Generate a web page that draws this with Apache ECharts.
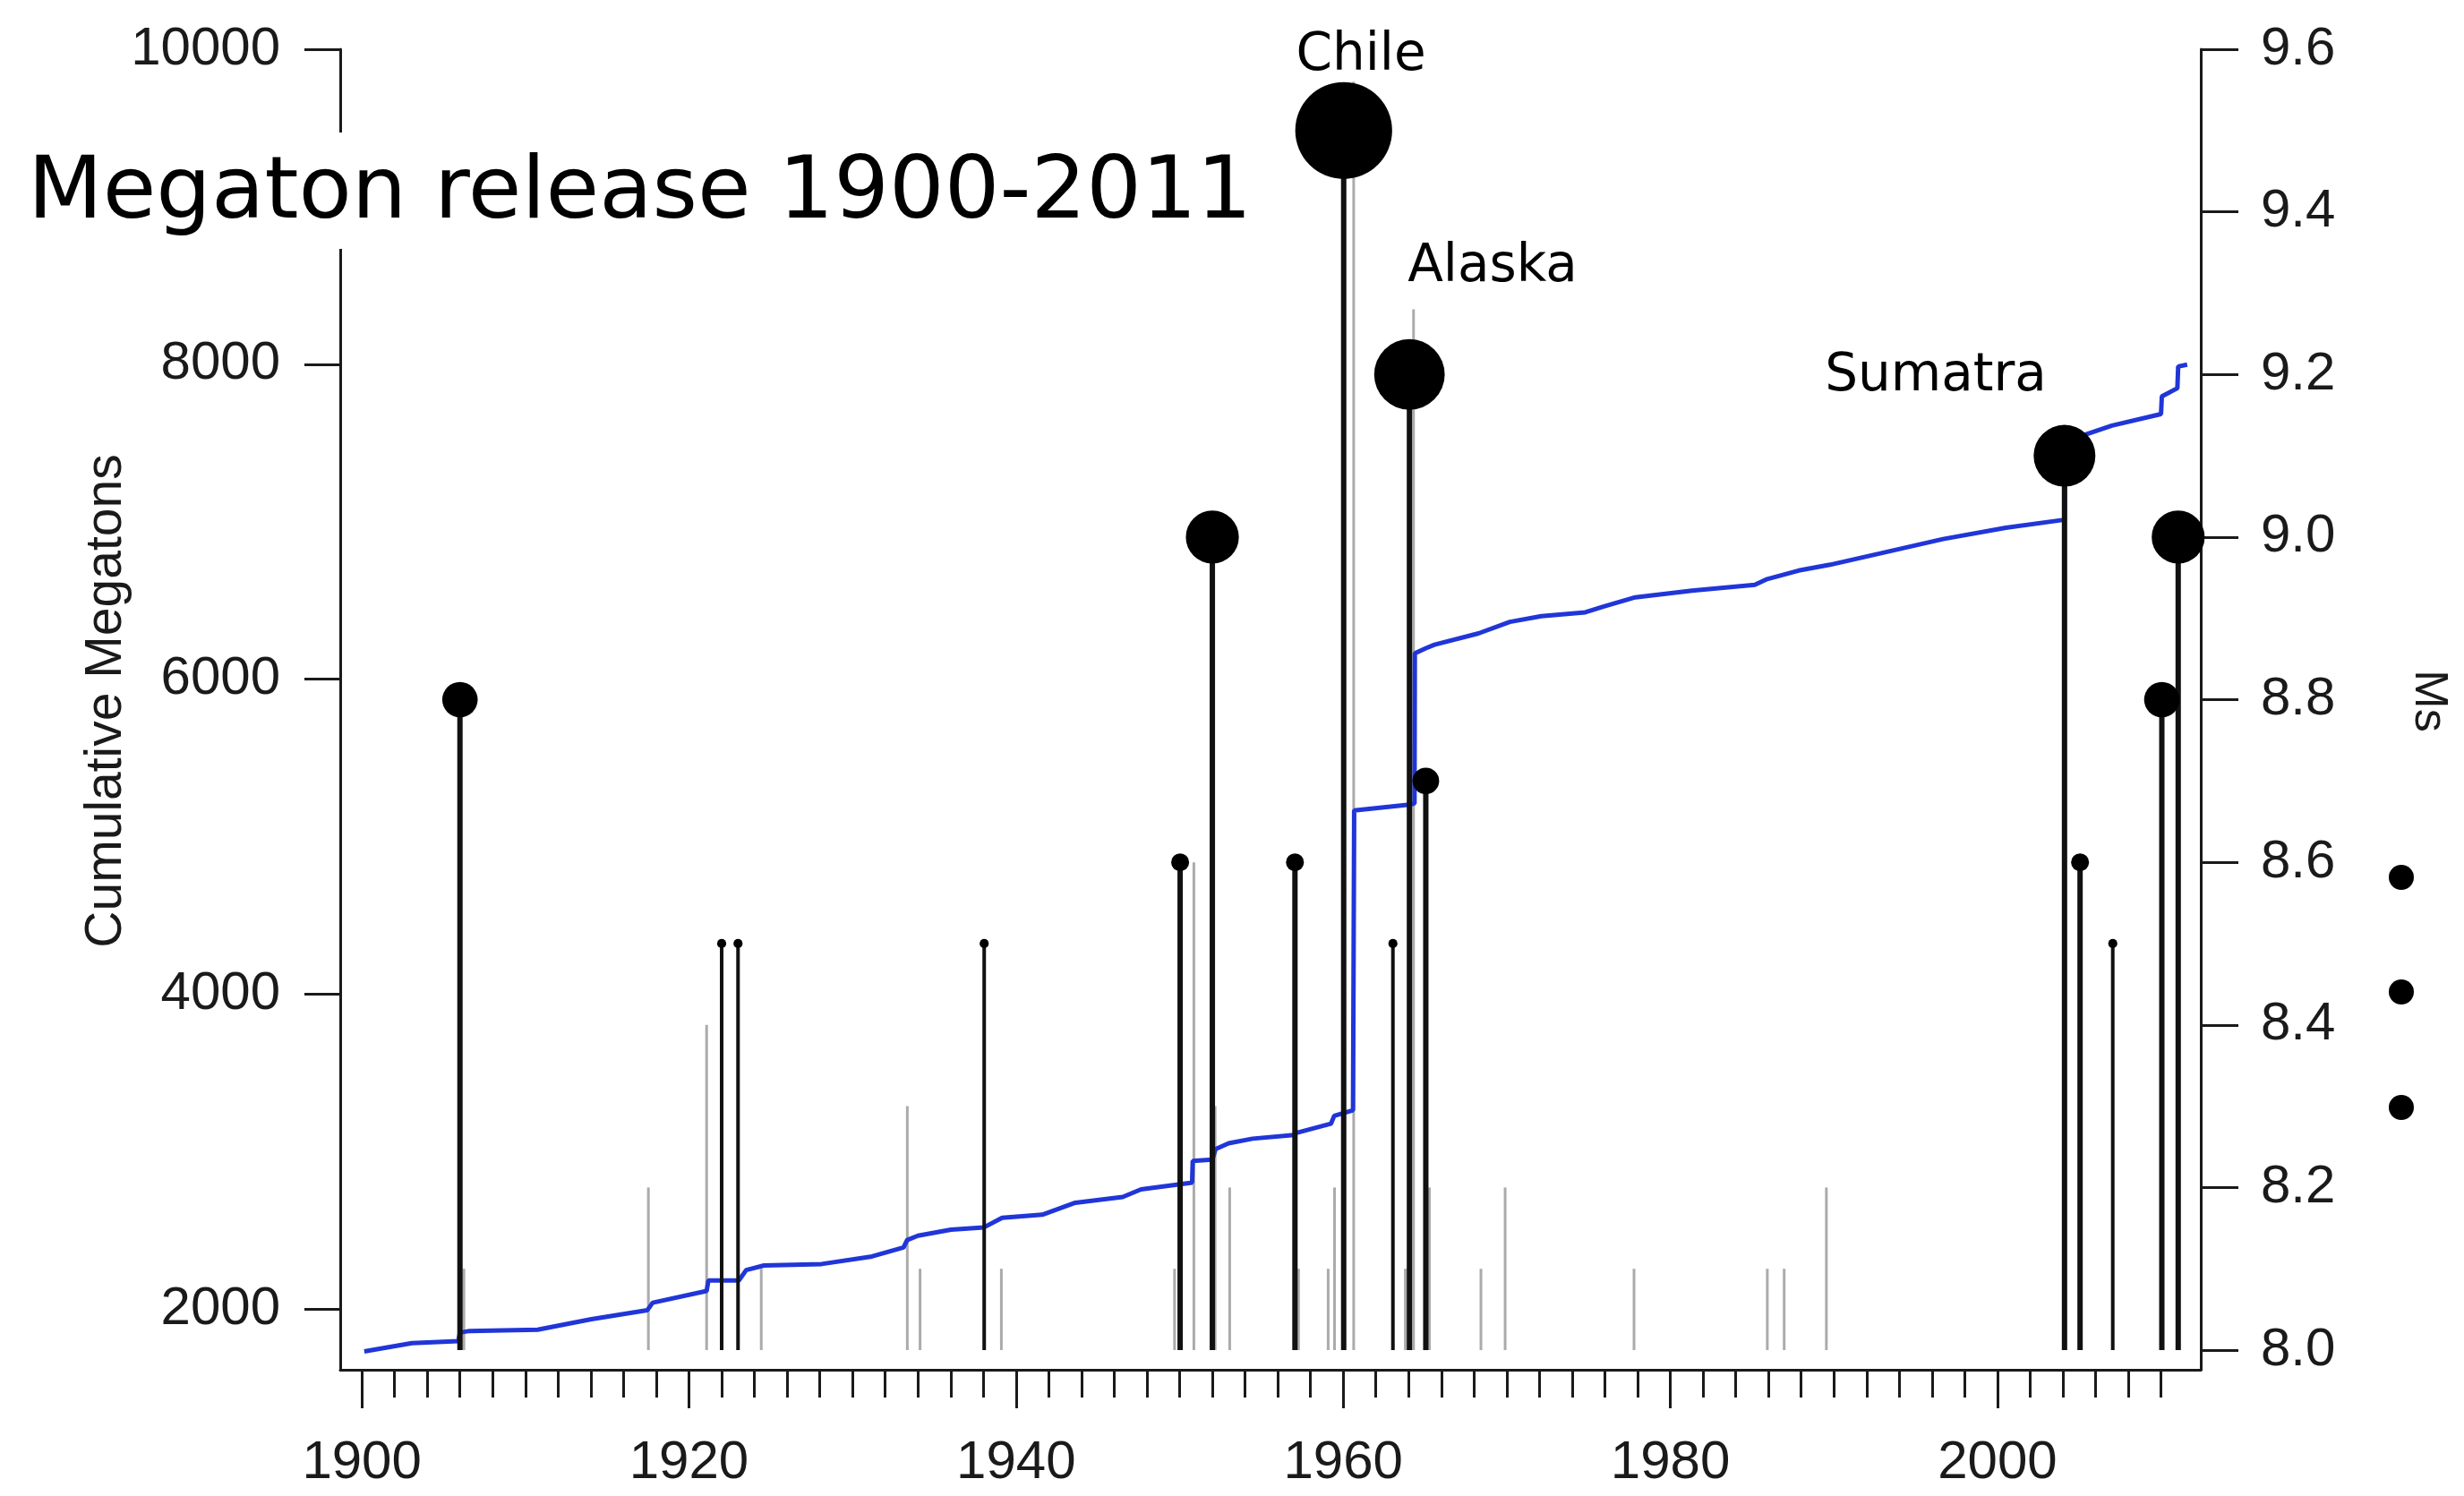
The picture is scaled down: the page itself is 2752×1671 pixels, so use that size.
<!DOCTYPE html>
<html>
<head>
<meta charset="utf-8">
<script src="https://cdn.jsdelivr.net/npm/echarts@6/dist/echarts.min.js"></script>
<style>
html,body{margin:0;padding:0;background:#fff;}
#chart{width:2752px;height:1671px;}
</style>
</head>
<body>
<div id="chart"></div>
<script>
// ---- data ----
var titleText = 'Megaton release 1900-2011';
var leftAxisName = 'Cumulative Megatons';
var rightAxisName = 'Ms';
var eventLabels = ['Chile', 'Alaska', 'Sumatra'];

var xMajorTicks = [1900, 1920, 1940, 1960, 1980, 2000];
var xMinorTicks = [1900,1902,1904,1906,1908,1910,1912,1914,1916,1918,1920,1922,1924,1926,1928,1930,1932,1934,1936,1938,1940,1942,1944,1946,1948,1950,1952,1954,1956,1958,1960,1962,1964,1966,1968,1970,1972,1974,1976,1978,1980,1982,1984,1986,1988,1990,1992,1994,1996,1998,2000,2002,2004,2006,2008,2010];
var leftTicks = [2000, 4000, 6000, 8000, 10000];
var rightTicks = [8.0, 8.2, 8.4, 8.6, 8.8, 9.0, 9.2, 9.4, 9.6];

// large events (black stems with dots)
var bigYears = [1906.0, 1922.0, 1923.0, 1938.05, 1950.03, 1952.0, 1957.05, 1960.03, 1963.04, 1964.05, 1965.05, 2004.1, 2005.05, 2007.05, 2010.05, 2011.05];
var bigMs    = [8.8,    8.5,    8.5,    8.5,     8.6,     9.0,    8.6,     9.5,     8.5,     9.2,     8.7,     9.1,    8.6,     8.5,     8.8,     9.0];

// other events (grey stems)
var smallYears = [1906.24, 1917.52, 1921.08, 1924.42, 1933.35, 1934.13, 1939.10, 1949.69, 1950.87, 1952.17, 1953.06, 1957.27, 1959.08, 1959.47, 1960.64, 1963.80, 1964.30, 1965.27, 1968.42, 1969.90, 1977.78, 1985.93, 1986.96, 1989.54];
var smallMs    = [8.1,     8.2,     8.4,     8.1,     8.3,     8.1,     8.1,     8.1,     8.6,     8.3,     8.2,     8.1,     8.1,     8.2,     9.56,    8.1,     9.28,    8.2,     8.1,     8.2,     8.1,     8.1,     8.1,     8.2];

// cumulative megatons (blue line)
var cumYears = [1900.15,1903.06,1905.9,1906.0,1906.6,1910.75,1914.04,1917.45,1917.78,1921.08,1921.19,1923.06,1923.5,1924.59,1928.11,1931.19,1933.12,1933.34,1934.0,1936.02,1938.04,1939.15,1941.6,1943.62,1946.52,1947.64,1950.76,1950.8,1952.0,1952.2,1953.0,1954.46,1957.0,1957.1,1959.25,1959.45,1960.6,1960.67,1964.05,1964.36,1964.38,1965.03,1965.58,1968.27,1970.19,1972.11,1974.8,1975.94,1977.86,1981.32,1985.16,1985.92,1987.84,1989.76,1992.83,1996.67,2000.51,2003.96,2004.1,2004.12,2005.3,2007.0,2010.0,2010.05,2011.0,2011.05,2011.6];
var cumMt    = [1730,1783,1795,1850,1860,1868,1935,1991,2039,2114,2181,2181,2247,2276,2285,2333,2390,2437,2465,2503,2518,2579,2598,2674,2711,2759,2802,2939,2948,3015,3052,3081,3105,3117,3176,3226,3262,5166,5202,5210,6163,6195,6218,6290,6363,6399,6424,6461,6519,6562,6598,6635,6689,6726,6798,6889,6961,7010,7015,7530,7550,7610,7683,7795,7847,7985,7997];

// ---- build ----
var STEM_BASE = 8.0;
var bigData = bigYears.map(function (y, i) { return [y, bigMs[i]]; });
var smallData = smallYears.map(function (y, i) { return [y, smallMs[i]]; });
var cumData = cumYears.map(function (y, i) { return [y, cumMt[i]]; });

function stemRenderer(color, widthFn) {
  return function (params, api) {
    var x = api.value(0), m = api.value(1);
    var p0 = api.coord([x, STEM_BASE]);
    var p1 = api.coord([x, m]);
    return { type: 'line', shape: { x1: p0[0], y1: p0[1], x2: p1[0], y2: p1[1] },
             style: { stroke: color, lineWidth: widthFn(m) } };
  };
}

var AX = '#1a1a1a';
var tickFont = { fontFamily: 'Liberation Sans', fontSize: 60, color: '#1a1a1a' };
var XMIN = 1898.68, XMAX = 2012.43;

var chart = echarts.init(document.getElementById('chart'), null, { renderer: 'canvas' });
chart.setOption({
  animation: false,
  backgroundColor: '#fff',
  grid: { left: 380, right: 294, top: 55, bottom: 141, containLabel: false },
  xAxis: [
    { type: 'value', position: 'bottom', min: XMIN, max: XMAX,
      axisLine: { show: true, lineStyle: { color: AX, width: 3 } },
      axisTick: { show: true, length: 43, lineStyle: { color: AX, width: 3 }, customValues: xMajorTicks },
      axisLabel: Object.assign({ show: true, margin: 74, customValues: xMajorTicks,
        formatter: function (v) { return String(Math.round(v)); } }, tickFont),
      splitLine: { show: false } },
    { type: 'value', position: 'bottom', min: XMIN, max: XMAX,
      axisLine: { show: false },
      axisTick: { show: true, length: 31, lineStyle: { color: AX, width: 3 }, customValues: xMinorTicks },
      axisLabel: { show: false },
      splitLine: { show: false } }
  ],
  yAxis: [
    { type: 'value', position: 'left', min: 1613.4, max: 10000,
      axisLine: { show: true, lineStyle: { color: AX, width: 3 } },
      axisTick: { show: true, length: 40, lineStyle: { color: AX, width: 3 }, customValues: leftTicks },
      axisLabel: Object.assign({ show: true, margin: 67, customValues: leftTicks,
        formatter: function (v) { return String(Math.round(v)); } }, tickFont),
      splitLine: { show: false } },
    { type: 'value', position: 'right', min: 7.9758, max: 9.6,
      axisLine: { show: true, lineStyle: { color: AX, width: 3 } },
      axisTick: { show: true, length: 42, lineStyle: { color: AX, width: 3 }, customValues: rightTicks },
      axisLabel: Object.assign({ show: true, margin: 67, customValues: rightTicks,
        formatter: function (v) { return Number(v).toFixed(1); } }, tickFont),
      splitLine: { show: false } }
  ],
  series: [
    { name: 'other events', type: 'custom', xAxisIndex: 0, yAxisIndex: 1, z: 1,
      renderItem: stemRenderer('#ababab', function () { return 3; }), data: smallData, encode: { x: 0, y: 1 }, silent: true },
    { name: 'cumulative', type: 'line', xAxisIndex: 0, yAxisIndex: 0, z: 2,
      data: cumData, showSymbol: false, symbol: 'none', smooth: false,
      lineStyle: { color: '#2036d8', width: 5 } },
    { name: 'large events', type: 'custom', xAxisIndex: 0, yAxisIndex: 1, z: 3,
      renderItem: stemRenderer('#111', function (m) { return m > 8.55 ? 6 : 4; }), data: bigData, encode: { x: 0, y: 1 }, silent: true },
    { name: 'magnitude', type: 'scatter', xAxisIndex: 0, yAxisIndex: 1, z: 4,
      data: bigData, symbol: 'circle',
      symbolSize: function (v) { return Math.max(9, 20 + 98 * (v[1] - 8.6)); },
      itemStyle: { color: '#000', opacity: 1 } }
  ],
  graphic: [
    { type: 'rect', z: 100, shape: { x: 18, y: 148, width: 1405, height: 130 }, style: { fill: '#fff' } },
    { type: 'text', z: 101, x: 31, y: 218, style: { text: titleText, fontFamily: 'DejaVu Sans', fontSize: 97, fill: '#000', align: 'left', verticalAlign: 'middle' } },
    { type: 'text', z: 101, x: 1520, y: 63, style: { text: eventLabels[0], fontFamily: 'DejaVu Sans', fontSize: 58, fill: '#000', align: 'center', verticalAlign: 'middle' } },
    { type: 'text', z: 101, x: 1667, y: 299, style: { text: eventLabels[1], fontFamily: 'DejaVu Sans', fontSize: 58, fill: '#000', align: 'center', verticalAlign: 'middle' } },
    { type: 'text', z: 101, x: 2162, y: 421, style: { text: eventLabels[2], fontFamily: 'DejaVu Sans', fontSize: 58, fill: '#000', align: 'center', verticalAlign: 'middle' } },
    { type: 'text', z: 101, x: 119, y: 783, rotation: Math.PI / 2, style: { text: leftAxisName, fontFamily: 'Liberation Sans', fontSize: 57, fill: '#1a1a1a', align: 'center', verticalAlign: 'middle' } },
    { type: 'text', z: 101, x: 2712, y: 783, rotation: -Math.PI / 2, style: { text: rightAxisName, fontFamily: 'Liberation Sans', fontSize: 52, fill: '#1a1a1a', align: 'center', verticalAlign: 'middle' } },
    { type: 'circle', z: 101, shape: { cx: 2682, cy: 980, r: 14 }, style: { fill: '#000' } },
    { type: 'circle', z: 101, shape: { cx: 2682, cy: 1108, r: 14 }, style: { fill: '#000' } },
    { type: 'circle', z: 101, shape: { cx: 2682, cy: 1237, r: 14 }, style: { fill: '#000' } }
  ]
});
</script>
</body>
</html>
